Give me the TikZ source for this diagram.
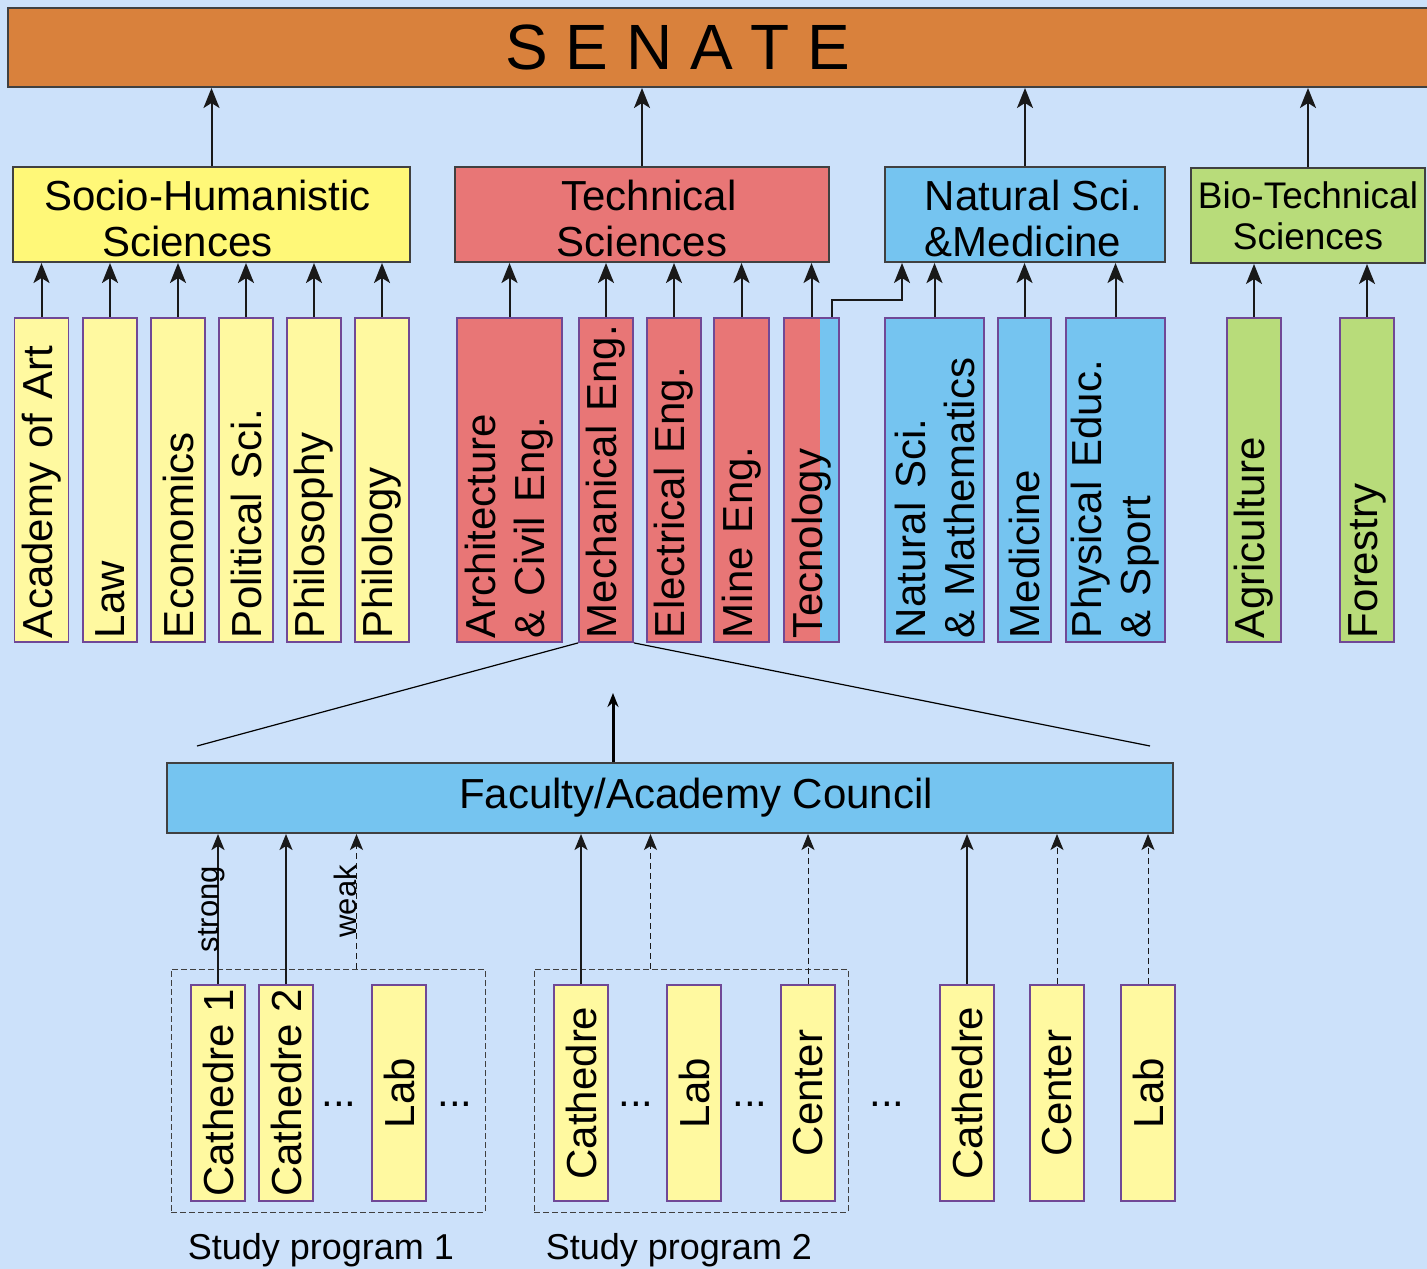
\documentclass[tikz,border=0pt]{standalone}
\usepackage{fontspec}
\setmainfont{Liberation Sans}
\usetikzlibrary{arrows.meta,calc,positioning}

\definecolor{pagebg}{RGB}{204,225,250}
\definecolor{senateorange}{RGB}{217,129,60}
\definecolor{facyellow}{RGB}{255,248,120}
\definecolor{depyellow}{RGB}{255,249,160}
\definecolor{techred}{RGB}{232,118,118}
\definecolor{natblue}{RGB}{117,196,240}
\definecolor{biogreen}{RGB}{184,220,122}
\definecolor{framegray}{RGB}{64,64,64}
\definecolor{deptpurple}{RGB}{112,72,150}

\newcommand{\bigfont}{\fontsize{42}{46}\selectfont}
\newcommand{\deptfont}{\fontsize{42}{49}\selectfont}
\newcommand{\labfont}{\fontsize{31}{31}\selectfont}
\newcommand{\facstrut}{\rule{0pt}{38pt}}

\tikzset{
  faculty/.style={draw=framegray, line width=2pt, minimum height=95pt, inner sep=0pt, align=center, font=\bigfont},
  dept/.style={draw=deptpurple, line width=1.8pt, rotate=90, minimum width=324pt, minimum height=54pt,
    text width=316pt, inner xsep=4pt, inner ysep=0pt, align=left, font=\deptfont},
  unit/.style={draw=deptpurple, line width=1.8pt, fill=depyellow, rotate=90, minimum width=216pt,
    minimum height=54pt, inner sep=0pt, font=\bigfont},
  program/.style={draw=framegray, dash pattern=on 6pt off 3pt, line width=1pt, minimum width=314pt, minimum height=243pt},
  up/.style={draw=black!90, line width=2pt, -{Stealth[length=20pt,width=16pt,inset=5pt]}},
  upsmall/.style={draw=black!90, line width=2pt, -{Stealth[length=16pt,width=13pt,inset=4pt]}},
  weakup/.style={draw=black!90, line width=1pt, dash pattern=on 6pt off 4pt, -{Stealth[length=16pt,width=13pt,inset=4pt]}},
}

\begin{document}
\begin{tikzpicture}[x=1pt,y=-1pt]
                \useasboundingbox (0,0) rectangle (1427,1269) ;
                \fill[pagebg] (0,0) rectangle (1427,1269) ;

                \draw (724,47.5) node[fill=senateorange, draw=framegray, line width=2pt, minimum width=1432pt,
                  minimum height=79pt, inner sep=0pt, font=\fontsize{64}{64}\selectfont] (senate) {S E N A T E\hspace*{92pt}} ;

                \draw (211.5,214.5) node[faculty, fill=facyellow, minimum width=397pt] (socio)
                  {\facstrut Socio-Humanistic\hspace*{8pt}\\Sciences\hspace*{48pt}} ;
                \draw (642,214.5) node[faculty, fill=techred, minimum width=374pt] (tech)
                  {\facstrut\hspace*{14pt}Technical\\Sciences} ;
                \draw (1025,214.5) node[faculty, fill=natblue, minimum width=280pt, align=left] (natsci)
                  {\facstrut\hspace*{17pt}Natural Sci.\\\hspace*{17pt}\&Medicine} ;
                \draw (1308,215.5) node[faculty, fill=biogreen, minimum width=234pt, font=\fontsize{37}{41}\selectfont] (bio)
                  {Bio-Technical\\Sciences} ;

                \draw (41.5,480) node[dept, fill=depyellow] (art) {Academy of Art} ;
                \draw (110,480) node[dept, fill=depyellow] (law) {Law} ;
                \draw (178,480) node[dept, fill=depyellow] (econ) {Economics} ;
                \draw (246,480) node[dept, fill=depyellow] (polit) {Political Sci.} ;
                \draw (314,480) node[dept, fill=depyellow] (philos) {Philosophy} ;
                \draw (382,480) node[dept, fill=depyellow] (philol) {Philology} ;

                \draw (509.5,480) node[dept, fill=techred, minimum height=105pt] (arch) {Architecture\\\& Civil Eng.} ;
                \draw (606,480) node[dept, fill=techred] (mech) {Mechanical Eng.} ;
                \draw (674,480) node[dept, fill=techred] (elec) {Electrical Eng.} ;
                \draw (741.5,480) node[dept, fill=techred, minimum height=55pt] (mine) {Mine Eng.} ;
                \fill[techred] (784,318) rectangle (820,642) ;
                \fill[natblue] (820,318) rectangle (839,642) ;
                \draw (811.5,480) node[dept, minimum height=55pt] (tecn) {Tecnology} ;

                \draw (934.5,480) node[dept, fill=natblue, minimum height=99pt] (natmath) {Natural Sci.\\\& Mathematics} ;
                \draw (1024.5,480) node[dept, fill=natblue, minimum height=53pt] (medic) {Medicine} ;
                \draw (1115.5,480) node[dept, fill=natblue, minimum height=99pt] (phys) {Physical Educ.\\\& Sport} ;

                \draw (1254,480) node[dept, fill=biogreen] (agri) {Agriculture} ;
                \draw (1367,480) node[dept, fill=biogreen] (forest) {Forestry} ;

                \foreach \f in {socio,tech,natsci,bio}
                  \draw[up] (\f.north) -- (\f.north |- senate.south) ;
                \foreach \d in {art,law,econ,polit,philos,philol}
                  \draw[up] (\d.east) -- (\d.east |- socio.south) ;
                \foreach \d in {arch,mech,elec,mine,tecn}
                  \draw[up] (\d.east) -- (\d.east |- tech.south) ;
                \foreach \d in {natmath,medic,phys}
                  \draw[up] (\d.east) -- (\d.east |- natsci.south) ;
                \foreach \d in {agri,forest}
                  \draw[up] (\d.east) -- (\d.east |- bio.south) ;
                \draw[up] ($(tecn.south east)+(-8,0)$) -- ++(0,-17) -| ($(natsci.south west)+(18,0)$) ;

                \coordinate (fanl) at (197,746) ;
                \coordinate (fanr) at (1150,746) ;
                \draw[line width=1.2pt] (mech.north west) -- (fanl) ;
                \draw[line width=1.2pt] (mech.south west) -- (fanr) ;

                \draw (670,798) node[faculty, fill=natblue, minimum width=1006pt, minimum height=70pt] (council)
                  {\hspace*{52pt}Faculty/Academy Council} ;
                \coordinate (ctip) at (613,693) ;
                \draw[line width=3pt, -{Stealth[length=14pt,width=11pt]}] (council.north -| ctip) -- (ctip) ;

                \draw (328,1090.5) node[program] (prog1) {} ;
                \draw (691,1090.5) node[program] (prog2) {} ;
                \node[below=21pt of prog1, xshift=-7pt, inner sep=0pt, font=\fontsize{36}{36}\selectfont] (sp1lab) {Study program 1} ;
                \node[below=21pt of prog2, xshift=-12pt, inner sep=0pt, font=\fontsize{36}{36}\selectfont] (sp2lab) {Study program 2} ;

                \draw (218,1093) node[unit] (cath1) {Cathedre 1} ;
                \draw (286,1093) node[unit] (cath2) {Cathedre 2} ;
                \draw (399,1093) node[unit] (lab1) {Lab} ;
                \draw (581,1093) node[unit] (cathb) {Cathedre} ;
                \draw (694,1093) node[unit] (labb) {Lab} ;
                \draw (808,1093) node[unit] (centb) {Center} ;
                \draw (967,1093) node[unit] (cathc) {Cathedre} ;
                \draw (1057,1093) node[unit] (centc) {Center} ;
                \draw (1148,1093) node[unit] (labc) {Lab} ;

                \draw (339,1104) node[font=\bigfont] (dotsa) {...} ;
                \draw (455,1104) node[font=\bigfont] (dotsb) {...} ;
                \draw (636,1104) node[font=\bigfont] (dotsc) {...} ;
                \draw (750,1104) node[font=\bigfont] (dotsd) {...} ;
                \draw (887,1104) node[font=\bigfont] (dotse) {...} ;

                \draw[upsmall] (cath1.east) -- node[rotate=90, anchor=base, inner sep=0pt, font=\labfont] (strong) {strong}
                  (cath1.east |- council.south) ;
                \foreach \u in {cath2,cathb,cathc}
                  \draw[upsmall] (\u.east) -- (\u.east |- council.south) ;
                \coordinate (w1) at ($(prog1.north west)+(186,0)$) ;
                \coordinate (w2) at ($(prog2.north west)+(117,0)$) ;
                \draw[weakup] (w1) -- node[rotate=90, anchor=base, inner sep=0pt, font=\labfont] (weak) {weak}
                  (w1 |- council.south) ;
                \draw[weakup] (w2) -- (w2 |- council.south) ;
                \foreach \u in {centb,centc,labc}
                  \draw[weakup] (\u.east) -- (\u.east |- council.south) ;
            \end{tikzpicture}
\end{document}
